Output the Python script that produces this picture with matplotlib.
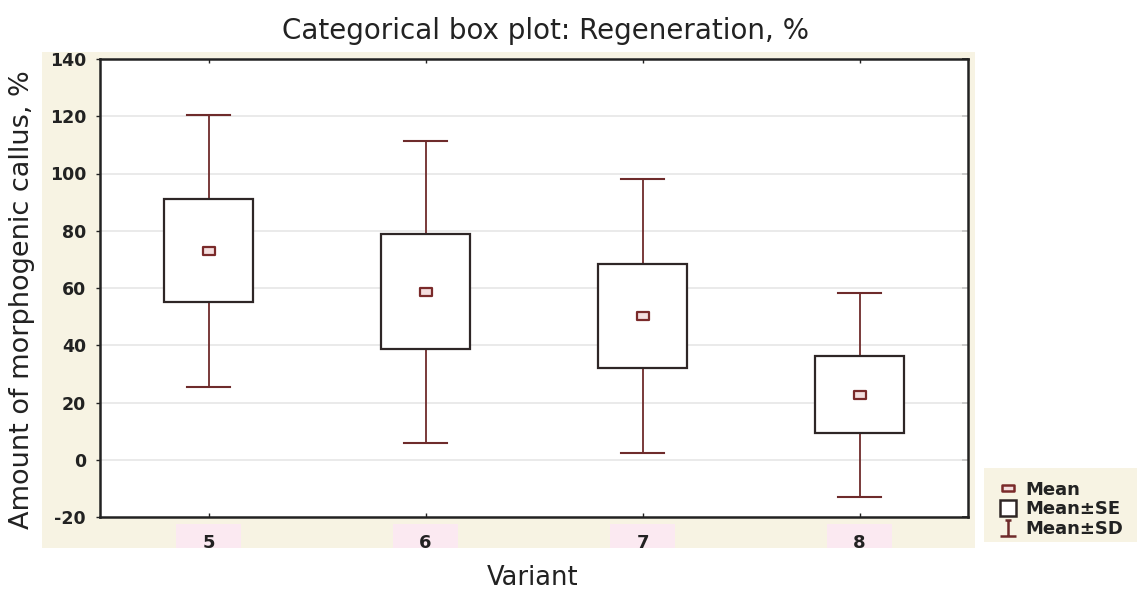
import matplotlib
matplotlib.use("Agg")
import matplotlib.pyplot as plt
from matplotlib.patches import Rectangle
from matplotlib.lines import Line2D
from matplotlib.path import Path
import matplotlib.transforms as mtransforms

categories = ["5", "6", "7", "8"]
means = [73.0, 58.7, 50.2, 22.7]
se = [18.0, 20.0, 18.3, 13.5]
sd = [47.5, 52.7, 48.0, 35.6]
yticks = [-20, 0, 20, 40, 60, 80, 100, 120, 140]

box_col = "#2e2626"
whisk_col = "#6e2b2b"
mean_col = "#7a2a2a"
beige = "#f7f3e3"
pink = "#fbe9f1"

fig = plt.figure(figsize=(11.37, 5.94), dpi=100)
fig.patch.set_facecolor("white")
# beige panel behind the plot area
fig.patches.append(Rectangle((42 / 1137, 1 - 548 / 594), (975 - 42) / 1137, (548 - 52) / 594,
                             transform=fig.transFigure, facecolor=beige, edgecolor="none", zorder=-2))
# beige panel behind legend
fig.patches.append(Rectangle((984 / 1137, 1 - 542 / 594), (1137 - 984) / 1137, (542 - 468) / 594,
                             transform=fig.transFigure, facecolor=beige, edgecolor="none", zorder=-2))

ax = fig.add_axes([100 / 1137, 1 - 517 / 594, (968 - 100) / 1137, (517 - 59) / 594])
ax.set_zorder(1)
ax.set_facecolor("white")
ax.set_xlim(-0.5, 3.5)
ax.set_ylim(-20, 140)

for y in yticks[1:-1]:
    ax.axhline(y, color="#e6e6e6", lw=1.2, zorder=1)

xs = list(range(len(categories)))
bw = 0.41
cw = 0.20
for x, m, s, d in zip(xs, means, se, sd):
    ax.plot([x, x], [m + s, m + d], color=whisk_col, lw=1.3, zorder=2)
    ax.plot([x, x], [m - d, m - s], color=whisk_col, lw=1.3, zorder=2)
    ax.plot([x - cw / 2, x + cw / 2], [m + d, m + d], color=whisk_col, lw=1.5, zorder=2)
    ax.plot([x - cw / 2, x + cw / 2], [m - d, m - d], color=whisk_col, lw=1.5, zorder=2)
    ax.add_patch(Rectangle((x - bw / 2, m - s), bw, 2 * s, facecolor="white",
                           edgecolor=box_col, lw=1.6, zorder=3))

mean_marker = Path([(-1, -0.62), (1, -0.62), (1, 0.62), (-1, 0.62), (-1, -0.62)],
                   [Path.MOVETO, Path.LINETO, Path.LINETO, Path.LINETO, Path.CLOSEPOLY])
ax.plot(xs, means, linestyle="none", marker=mean_marker, markersize=8.5,
        markerfacecolor="#f4dede", markeredgecolor=mean_col, markeredgewidth=1.6, zorder=4)

ax.set_yticks(yticks)
ax.set_yticklabels([str(v) for v in yticks], fontsize=12.5, fontweight="bold", color="#222222")
ax.set_xticks(xs)
ax.set_xticklabels(categories, fontsize=13, fontweight="bold", color="#222222",
                   family=["Liberation Sans Narrow", "DejaVu Sans"])
ax.tick_params(axis="y", direction="out", length=3, width=1, pad=7, right=False, color="#222222")
ax.tick_params(axis="x", direction="in", length=3, width=1, pad=12, top=True, color="#222222")
for sp in ax.spines.values():
    sp.set_color("#222222")
    sp.set_linewidth(1.8)

# inward ticks on the right spine
rax = ax.secondary_yaxis("right")
rax.set_yticks(yticks)
rax.tick_params(direction="in", length=4, width=1.2, labelright=False, color="#222222")
rax.spines["right"].set_visible(False)

# pink patches behind category labels
trans = mtransforms.blended_transform_factory(ax.transData, fig.transFigure)
for x in xs:
    fig.patches.append(Rectangle((x - 0.15, 1 - 548 / 594), 0.30, 24 / 594, transform=trans,
                                 facecolor=pink, edgecolor="none", zorder=-1))

fig.text(546 / 1137, 1 - 31 / 594, "Categorical box plot: Regeneration, %", ha="center", va="center",
         fontsize=20, color="#222222")
fig.text(22 / 1137, 1 - 300 / 594, "Amount of morphogenic callus, %", rotation=90, ha="center", va="center",
         fontsize=19.5, color="#222222")
fig.text(533 / 1137, 1 - 578 / 594, "Variant", ha="center", va="center", fontsize=18.5, color="#222222")

sd_marker = Path([(0, -1), (0, 1), (-0.4, 1), (0.4, 1), (-1, -1), (1, -1)],
                 [Path.MOVETO, Path.LINETO, Path.MOVETO, Path.LINETO, Path.MOVETO, Path.LINETO])
handles = [
    Line2D([], [], linestyle="none", marker=mean_marker, markersize=8, markerfacecolor="#f4dede",
           markeredgecolor=mean_col, markeredgewidth=1.8),
    Line2D([], [], linestyle="none", marker="s", markersize=11, markerfacecolor="white",
           markeredgecolor=box_col, markeredgewidth=1.8),
    Line2D([], [], linestyle="none", marker=sd_marker, markersize=11, markerfacecolor="none",
           markeredgecolor=whisk_col, markeredgewidth=1.8),
]
leg = fig.legend(handles, ["Mean", "Mean\u00b1SE", "Mean\u00b1SD"], loc="upper left",
                 bbox_to_anchor=(986 / 1137, 1 - 468 / 594), frameon=False,
                 handlelength=1.0, handletextpad=0.5, labelspacing=0.1, borderpad=0.2,
                 prop={"weight": "bold", "size": 13})
for t in leg.get_texts():
    t.set_color("#222222")

fig.savefig("out.png", dpi=100, facecolor="white")
